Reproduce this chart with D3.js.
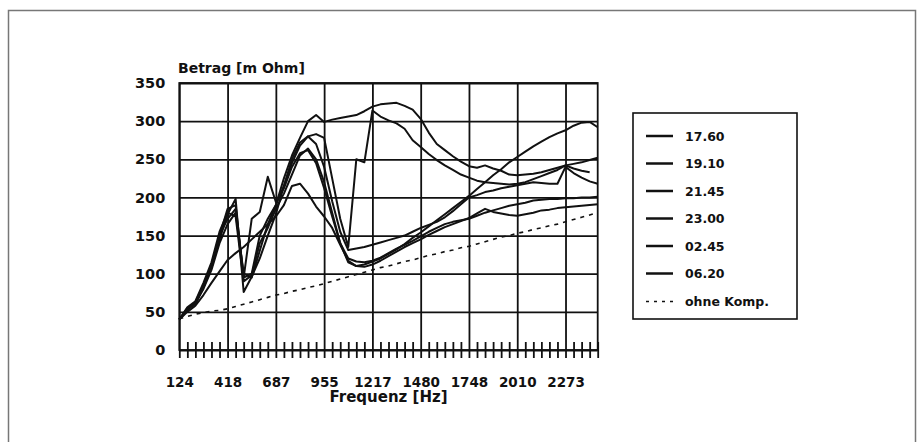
<!DOCTYPE html>
<html lang="de">
<head>
<meta charset="UTF-8">
<title>Betrag [m Ohm]</title>
<script src="https://cdn.jsdelivr.net/npm/d3@7"></script>
<style>
  body { margin: 0; background: #fff; }
  svg text { font-family: "DejaVu Sans", sans-serif; font-weight: bold; fill: #111; }
  .grid line { stroke: #111; stroke-width: 1.8; }
  .grid path { display: none; }
  .series { fill: none; stroke: #111; stroke-width: 2; stroke-linejoin: round; }
</style>
</head>
<body>
<script>
// x axis: measuring points, labelled every 6th
const tickLabels = ['124', '418', '687', '955', '1217', '1480', '1748', '2010', '2273'];
const labelStep = 6;
const nPoints = 53;
const yTicks = [0, 50, 100, 150, 200, 250, 300, 350];

const seriesNames = ['17.60', '19.10', '21.45', '23.00', '02.45', '06.20'];

const s1760 = [40, 55, 62, 80, 105, 140, 165, 180, 100, 95, 130, 165, 190, 225, 255, 278, 300, 308, 299, 302,
  304, 306, 308, 313, 319, 322, 323, 324, 320, 315, 303, 285, 270, 262, 254, 247, 241, 239, 242, 238,
  235, 230, 229, 230, 231, 233, 236, 239, 242, 238, 235, 233, null];
const s1910 = [40, 52, 63, 85, 110, 150, 185, 190, 95, 100, 150, 172, 190, 215, 245, 268, 280, 283, 278, 225,
  172, 135, 250, 246, 314, 306, 301, 297, 290, 275, 266, 257, 249, 242, 236, 230, 226, 222, 220, 219,
  218, 217, 218, 220, 224, 228, 232, 236, 242, 244, 246, 249, 252];
const s2145 = [40, 56, 64, 88, 115, 155, 180, 175, 90, 98, 140, 160, 185, 205, 230, 255, 264, 250, 220, 180,
  140, 115, 110, 112, 116, 120, 126, 132, 139, 147, 154, 162, 170, 178, 186, 194, 202, 211, 220, 229,
  237, 246, 253, 260, 267, 273, 279, 284, 288, 294, 298, 299, 292];
const s2300 = [40, 54, 60, 82, 108, 145, 178, 198, 76, 96, 120, 150, 178, 215, 250, 272, 280, 270, 240, 195,
  155, 131, 133, 135, 138, 141, 144, 147, 150, 155, 160, 164, 168, 174, 182, 191, 200, 203, 207, 209,
  212, 214, 216, 218, 220, 219, 218, 218, 240, 232, 226, 221, 218];
const s0245 = [40, 50, 58, 72, 88, 103, 118, 127, 135, 145, 155, 165, 175, 190, 215, 218, 205, 188, 175, 160,
  138, 117, 110, 109, 112, 117, 123, 129, 135, 140, 145, 151, 156, 161, 165, 169, 173, 179, 185, 181,
  179, 177, 176, 178, 180, 183, 184, 186, 187, 188, 189, 190, 191];
const s0620 = [40, 53, 61, 83, 112, 150, 172, 185, 95, 172, 181, 227, 194, 212, 240, 258, 262, 245, 212, 175,
  140, 120, 116, 115, 117, 121, 127, 133, 138, 143, 149, 155, 160, 165, 168, 170, 172, 176, 180, 183,
  186, 189, 191, 193, 196, 197, 198, 198, 199, 199, 200, 200, 201];
const ohneKomp = [41, 44, 47, 49, 51, 52, 54, 57, 60, 63, 66, 69, 72, 74, 77, 79, 82, 84, 87, 90,
  93, 96, 99, 102, 105, 108, 110, 113, 116, 118, 121, 124, 126, 129, 131, 134, 136, 139, 142, 145,
  148, 150, 153, 155, 158, 160, 163, 165, 168, 171, 174, 177, 180];

const seriesValues = [s1760, s1910, s2145, s2300, s0245, s0620];

const width = 918, height = 442;
const margin = { left: 179.3, top: 83 };
const plotW = 418.4, plotH = 267;

const svg = d3.select('body').append('svg')
  .attr('width', width)
  .attr('height', height);

// outer frame
svg.append('rect')
  .attr('x', 8.5).attr('y', 10.5)
  .attr('width', 907).attr('height', 440)
  .attr('fill', 'none').attr('stroke', '#777').attr('stroke-width', 1.5);

const g = svg.append('g').attr('transform', `translate(${margin.left},${margin.top})`);

const x = d3.scaleLinear().domain([0, nPoints - 1]).range([0, plotW]);
const y = d3.scaleLinear().domain([0, 350]).range([plotH, 0]);

// y grid + labels
const yAxis = d3.axisLeft(y).tickValues(yTicks).tickSize(8).tickPadding(6);
const gy = g.append('g').attr('class', 'grid').call(yAxis);
gy.selectAll('.tick line').attr('x2', plotW);
gy.selectAll('.tick text').attr('x', -14).style('font-size', '14.5px');

// x ticks, major grid lines every 6th point
const xAxis = d3.axisBottom(x)
  .tickValues(d3.range(nPoints))
  .tickSize(8)
  .tickFormat(i => i % labelStep === 0 && i / labelStep < tickLabels.length ? tickLabels[i / labelStep] : '');
const gx = g.append('g').attr('class', 'grid')
  .attr('transform', `translate(0,${plotH})`)
  .call(xAxis);
gx.selectAll('.tick line').attr('y1', d => d % labelStep === 0 ? -plotH : -8);
gx.selectAll('.tick text').attr('y', 36.7).attr('dy', 0).style('font-size', '13.5px');

// plot frame
g.append('rect')
  .attr('width', plotW).attr('height', plotH)
  .attr('fill', 'none').attr('stroke', '#111').attr('stroke-width', 1.8);

const line = d3.line()
  .defined(d => d != null)
  .x((d, i) => x(i))
  .y(d => y(d));

g.selectAll('.series')
  .data(seriesValues)
  .enter()
  .append('path')
  .attr('class', 'series')
  .attr('d', d => line(d));

g.append('path')
  .attr('fill', 'none')
  .attr('stroke', '#111')
  .attr('stroke-width', 1.6)
  .attr('stroke-dasharray', '4,5')
  .attr('d', line(ohneKomp));

// axis titles
svg.append('text')
  .attr('x', 178).attr('y', 73)
  .style('font-size', '14px')
  .text('Betrag [m Ohm]');
svg.append('text')
  .attr('x', margin.left + plotW / 2).attr('y', 402)
  .attr('text-anchor', 'middle')
  .style('font-size', '15px')
  .text('Frequenz [Hz]');

// legend
const legend = svg.append('g').attr('transform', 'translate(633,113)');
legend.append('rect')
  .attr('width', 164).attr('height', 206)
  .attr('fill', 'none').attr('stroke', '#111').attr('stroke-width', 1.6);

const legendItems = seriesNames.map(n => ({ name: n, dashed: false }))
  .concat([{ name: 'ohne Komp.', dashed: true }]);

const item = legend.selectAll('.item')
  .data(legendItems)
  .enter()
  .append('g')
  .attr('transform', (d, i) => `translate(0,${23 + i * 27.5 + (d.dashed ? 0.5 : 0)})`);

item.append('line')
  .attr('x1', 13).attr('x2', 40)
  .attr('stroke', '#111')
  .attr('stroke-width', d => d.dashed ? 1.6 : 2.5)
  .attr('stroke-dasharray', d => d.dashed ? '3,5' : null);

item.append('text')
  .attr('x', 52).attr('y', 4.5)
  .style('font-size', '12.5px')
  .text(d => d.name);
</script>
</body>
</html>
